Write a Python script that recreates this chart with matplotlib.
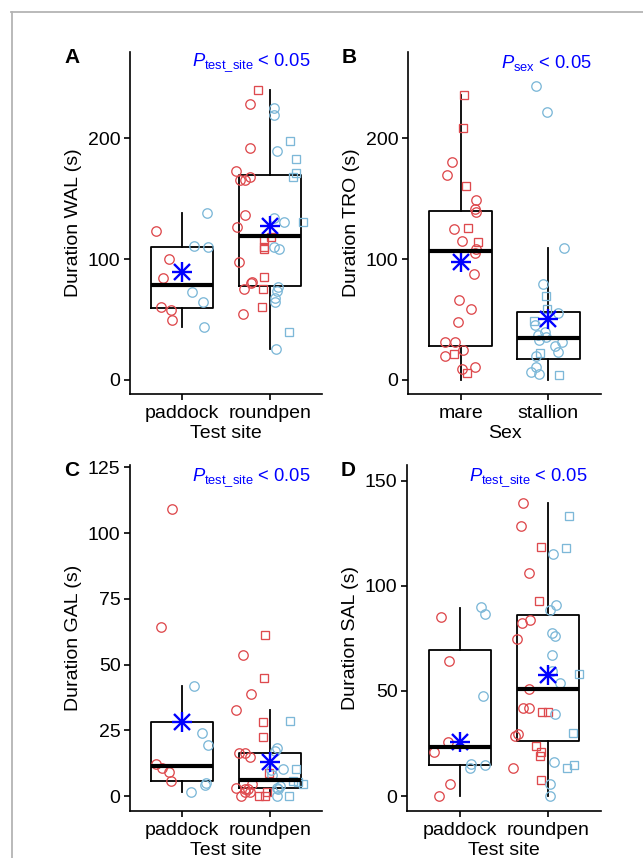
import matplotlib
matplotlib.use('Agg')
import matplotlib.pyplot as plt
from matplotlib.lines import Line2D

plt.rcParams['font.family'] = ['Liberation Sans', 'DejaVu Sans']
plt.rcParams['mathtext.fontset'] = 'custom'
plt.rcParams['mathtext.rm'] = 'Liberation Sans'
plt.rcParams['mathtext.it'] = 'Liberation Sans:italic'

RED = '#DE4A4E'
BLUE = '#7DB8D8'

# ---- panel A: WAL by test site ----
a_cats = ['paddock', 'roundpen']
a_red_c_x = [0.70, 0.85, 0.78, 0.75, 0.87, 0.88,
             1.78, 1.78, 1.62, 1.78, 1.66, 1.72, 1.72, 1.63, 1.65, 1.80, 1.79, 1.71, 1.70]
a_red_c_y = [123.3, 100.4, 83.9, 60.1, 57.4, 49.7,
             228.4, 192.3, 173, 168, 165.5, 165.2, 136.6, 126.3, 97.7, 81.1, 80, 75, 54.1]
a_red_s_x = [1.87, 2.01, 1.94, 1.94, 1.93, 1.93, 1.92, 1.91]
a_red_s_y = [240.3, 118, 115.6, 109.8, 108.7, 85.5, 75, 60.4]
a_blue_c_x = [1.28, 1.13, 1.29, 1.11, 1.24, 1.25,
              2.05, 2.05, 2.09, 2.05, 2.17, 2.05, 2.11, 2.10, 2.08, 2.06, 2.06, 2.07]
a_blue_c_y = [138.2, 110.9, 109.8, 72.3, 64.6, 43.6,
              225.4, 219.3, 189.5, 134.3, 130.8, 110.3, 108.1, 77, 73.9, 68.1, 64.6, 25.4]
a_blue_s_x = [2.23, 2.30, 2.30, 2.27, 2.38, 2.22]
a_blue_s_y = [198, 183.2, 171.6, 167.7, 130.8, 39.2]
# whislo, q1, med, q3, whishi, mean
a_box = [(43.6, 59.6, 78.1, 109.8, 138.2, 89.1), (25.4, 77.8, 118.9, 169.7, 240.3, 127.7)]

# ---- panel B: TRO by sex ----
b_cats = ['mare', 'stallion']
b_red_c_x = [0.90, 0.85, 1.18, 1.16, 1.18, 0.92, 1.02, 1.17, 1.16, 1.15, 0.98, 1.12, 0.97,
             0.82, 0.94, 1.03, 0.82, 1.01, 1.16]
b_red_c_y = [180.4, 169.9, 149, 141.2, 139.3, 124.7, 115.3, 108.4, 105.4, 87.4, 65.9, 58.2, 47.4,
             31.2, 31.4, 24.3, 19.9, 9.1, 10.5]
b_red_s_x = [1.04, 1.03, 1.06, 1.08, 1.20, 0.92, 1.07]
b_red_s_y = [235.9, 208.3, 160.3, 125.5, 114.2, 21, 5.5]
b_blue_c_x = [1.86, 1.98, 2.18, 1.94, 2.11, 1.85, 1.88, 1.96, 1.89, 1.97, 2.07, 2.15, 2.11,
              1.86, 1.86, 1.80, 1.89]
b_blue_c_y = [243.6, 221.8, 109, 79.2, 54.9, 45, 36.7, 39.2, 33.1, 35, 28.1, 31.4, 22.9,
              19.3, 10.8, 6.6, 4.7]
b_blue_s_x = [1.97, 1.98, 1.84, 1.90, 2.12]
b_blue_s_y = [69.5, 59, 48.8, 22.3, 3.6]
b_box = [(0, 27.6, 106.8, 140.1, 235.9, 97.4), (0, 17.1, 34.5, 56, 109, 50.2)]

# ---- panel C: GAL by test site ----
c_red_c_x = [0.88, 0.75, 0.70, 0.77, 0.85, 0.87,
             1.69, 1.79, 1.62, 1.65, 1.72, 1.78, 1.61, 1.67, 1.72, 1.75, 1.80, 1.78, 1.72]
c_red_c_y = [109.1, 64.2, 12.2, 10.5, 9, 5.7,
             53.8, 38.8, 32.7, 16.4, 16.4, 15, 2.9, 0, 1.6, 2.8, 4.4, 1.4, 2.7]
c_red_s_x = [1.95, 1.94, 1.92, 1.92, 1.99, 1.88, 1.95, 1.97]
c_red_s_y = [61.3, 44.8, 28.3, 22.5, 8.9, 0, 0, 1.4]
c_blue_c_x = [1.13, 1.23, 1.29, 1.27, 1.26, 1.10,
              2.09, 2.06, 2.15, 2.03, 2.08, 2.10, 2.08, 2.12, 2.02]
c_blue_c_y = [41.8, 23.9, 19.3, 5.1, 4.1, 1.4,
              18.3, 17, 10.3, 8, 3.2, 2.5, 0, 3.8, 9.8]
c_blue_s_x = [2.23, 2.30, 2.27, 2.32, 2.38, 2.22]
c_blue_s_y = [28.4, 10.4, 5.7, 5.2, 4.7, 0]
c_box = [(1.4, 5.8, 11.3, 28.2, 41.8, 28.2), (0, 2.9, 6, 16.4, 32.9, 12.9)]

# ---- panel D: SAL by test site ----
d_red_c_x = [0.79, 0.88, 0.86, 0.71, 0.89, 0.76,
             1.71, 1.69, 1.78, 1.79, 1.70, 1.65, 1.78, 1.71, 1.78, 1.66, 1.62, 1.60]
d_red_c_y = [85.4, 64.4, 25.6, 20.8, 5.9, 0,
             139.2, 128.7, 106.2, 83.8, 82.5, 74.8, 50.8, 41.9, 41.9, 29.3, 28.6, 13.5]
d_red_s_x = [1.92, 1.90, 1.93, 2.00, 1.86, 1.92, 1.91, 1.92]
d_red_s_y = [118.3, 92.9, 40.2, 40.2, 24, 20.8, 19, 7.5]
d_blue_c_x = [1.24, 1.28, 1.26, 1.13, 1.11, 1.29,
              2.06, 2.09, 2.02, 2.04, 2.08, 2.04, 2.04, 2.14, 2.08, 2.07, 2.02, 2.02]
d_blue_c_y = [89.8, 86.7, 47.8, 15.2, 13.5, 14.9,
              115.2, 91.1, 88.3, 77.8, 76.2, 67.3, 59.4, 54, 38.9, 16.3, 5.9, 0]
d_blue_s_x = [2.24, 2.20, 2.35, 2.28, 2.29, 2.22]
d_blue_s_y = [133.2, 118.1, 58.3, 30, 14.9, 13.5]
d_box = [(0, 14.8, 23.3, 69.5, 89.7, 25.7), (0, 26, 51, 86, 139.2, 57.5)]

panels = [
    dict(letter='A', cats=a_cats, xlab='Test site', ylab='Duration WAL (s)',
         ylim=(-11.9, 271.7), yticks=[0, 100, 200], box=a_box,
         pts=(a_red_c_x, a_red_c_y, a_red_s_x, a_red_s_y, a_blue_c_x, a_blue_c_y, a_blue_s_x, a_blue_s_y),
         ptext=r'$P_{\mathrm{test\_site}}$ < 0.05', pxy=(0.94, 0.968),
         rect=[130/643, 1-394/858, 192/643, 342/858]),
    dict(letter='B', cats=b_cats, xlab='Sex', ylab='Duration TRO (s)',
         ylim=(-11.9, 271.7), yticks=[0, 100, 200], box=b_box,
         pts=(b_red_c_x, b_red_c_y, b_red_s_x, b_red_s_y, b_blue_c_x, b_blue_c_y, b_blue_s_x, b_blue_s_y),
         ptext=r'$P_{\mathrm{sex}}$ < 0.05', pxy=(0.953, 0.968),
         rect=[408/643, 1-394/858, 193/643, 342/858]),
    dict(letter='C', cats=a_cats, xlab='Test site', ylab='Duration GAL (s)',
         ylim=(-5.7, 125.9), yticks=[0, 25, 50, 75, 100, 125], box=c_box,
         pts=(c_red_c_x, c_red_c_y, c_red_s_x, c_red_s_y, c_blue_c_x, c_blue_c_y, c_blue_s_x, c_blue_s_y),
         ptext=r'$P_{\mathrm{test\_site}}$ < 0.05', pxy=(0.94, 0.962),
         rect=[130/643, 1-811/858, 192/643, 346/858]),
    dict(letter='D', cats=a_cats, xlab='Test site', ylab='Duration SAL (s)',
         ylim=(-7.1, 157.5), yticks=[0, 50, 100, 150], box=d_box,
         pts=(d_red_c_x, d_red_c_y, d_red_s_x, d_red_s_y, d_blue_c_x, d_blue_c_y, d_blue_s_x, d_blue_s_y),
         ptext=r'$P_{\mathrm{test\_site}}$ < 0.05', pxy=(0.933, 0.962),
         rect=[407/643, 1-811/858, 194/643, 346/858]),
]

fig = plt.figure(figsize=(6.43, 8.58), dpi=100)

# grey frame lines at top and left
fig.add_artist(Line2D([11/643, 1], [1-11.5/858, 1-11.5/858], color='#b4b4b4', lw=1.3))
fig.add_artist(Line2D([11.5/643, 11.5/643], [0, 1-11.5/858], color='#b4b4b4', lw=1.3))

for p in panels:
    ax = fig.add_axes(p['rect'])
    stats = []
    for i, (lo, q1, med, q3, hi, mn) in enumerate(p['box']):
        stats.append(dict(whislo=lo, q1=q1, med=med, q3=q3, whishi=hi, fliers=[], label=p['cats'][i]))
    ax.bxp(stats, positions=[1, 2], widths=0.71, showfliers=False, showcaps=False,
           boxprops=dict(color='black', lw=1.3),
           whiskerprops=dict(color='black', lw=1.3),
           medianprops=dict(color='black', lw=3.0, solid_capstyle='butt'))
    rcx, rcy, rsx, rsy, bcx, bcy, bsx, bsy = p['pts']
    ax.plot(rcx, rcy, 'o', ms=6.8, mfc='none', mec=RED, mew=0.95)
    ax.plot(rsx, rsy, 's', ms=6.0, mfc='none', mec=RED, mew=0.95)
    ax.plot(bcx, bcy, 'o', ms=6.8, mfc='none', mec=BLUE, mew=0.95)
    ax.plot(bsx, bsy, 's', ms=6.0, mfc='none', mec=BLUE, mew=0.95)
    means = [b[5] for b in p['box']]
    ax.plot([1, 2], means, '+', ms=15, mew=1.7, color='#0000ff')
    ax.plot([1, 2], means, 'x', ms=11, mew=1.7, color='#0000ff')

    ax.set_xlim(0.4, 2.6)
    ax.set_ylim(*p['ylim'])
    ax.set_yticks(p['yticks'])
    ax.set_xticks([1, 2])
    ax.set_xticklabels(p['cats'])
    ax.spines['top'].set_visible(False)
    ax.spines['right'].set_visible(False)
    for s in ['left', 'bottom']:
        ax.spines[s].set_linewidth(1.2)
    ax.tick_params(axis='both', labelsize=14, length=4.3, width=1.2, pad=2.5, colors='black')
    ax.tick_params(axis='x', pad=3.5)
    ax.set_xlabel(p['xlab'], fontsize=14, labelpad=2.5)
    ax.set_ylabel(p['ylab'], fontsize=14, labelpad=4)
    ax.text(p['pxy'][0], p['pxy'][1], p['ptext'], transform=ax.transAxes, ha='right', va='center',
            color='#0000ff', fontsize=13.2)
    x0 = p['rect'][0] - 66/643
    y1 = p['rect'][1] + p['rect'][3] - 6/858
    fig.text(x0, y1, p['letter'], fontsize=15, fontweight='bold', ha='left', va='center')

fig.savefig('out.png', dpi=100)
